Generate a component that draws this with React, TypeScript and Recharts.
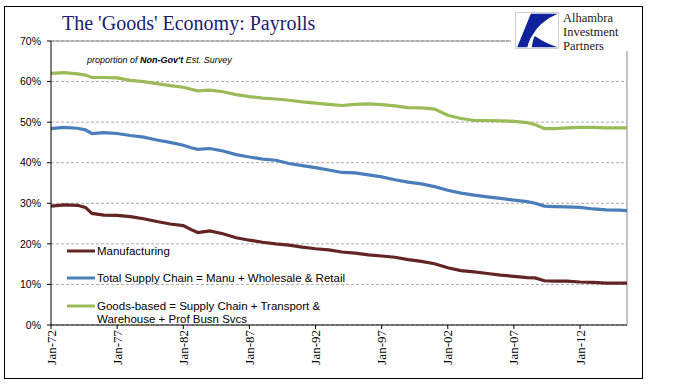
import { LineChart, Line, XAxis, YAxis, CartesianGrid, ReferenceLine, Legend } from "recharts";

// decimal years (Jan-72 .. mid-2015)
const years = [
  1972, 1973, 1974, 1974.6, 1975.1, 1976, 1977, 1978, 1979, 1980, 1981, 1982, 1982.6, 1983.1,
  1984, 1985, 1986, 1987, 1988, 1989, 1990, 1991, 1992, 1993, 1994, 1995, 1996, 1997, 1998,
  1999, 2000, 2001, 2002, 2003, 2004, 2005, 2006, 2007, 2008, 2008.6, 2009.3, 2010, 2011,
  2012, 2013, 2014, 2015, 2015.55,
];

const manufacturing = [
  29.3, 29.6, 29.5, 29.0, 27.5, 27.1, 27.0, 26.7, 26.2, 25.5, 24.9, 24.5, 23.5, 22.8,
  23.2, 22.5, 21.5, 20.9, 20.4, 20.0, 19.7, 19.2, 18.8, 18.5, 18.0, 17.7, 17.3, 17.0, 16.7,
  16.1, 15.7, 15.1, 14.1, 13.4, 13.1, 12.7, 12.3, 12.0, 11.7, 11.6, 10.9, 10.8, 10.8,
  10.6, 10.5, 10.3, 10.3, 10.3,
];

const supplyChain = [
  48.4, 48.7, 48.5, 48.1, 47.2, 47.4, 47.2, 46.7, 46.3, 45.6, 45.0, 44.3, 43.7, 43.3,
  43.5, 42.9, 42.0, 41.4, 40.9, 40.6, 39.8, 39.3, 38.8, 38.2, 37.6, 37.5, 37.0, 36.5, 35.8,
  35.2, 34.8, 34.1, 33.2, 32.5, 32.0, 31.6, 31.2, 30.8, 30.4, 30.0, 29.3, 29.2, 29.1,
  29.0, 28.6, 28.4, 28.3, 28.2,
];

const goodsBased = [
  62.0, 62.2, 61.9, 61.6, 61.0, 61.0, 60.9, 60.3, 60.0, 59.5, 59.0, 58.6, 58.1, 57.7,
  57.9, 57.5, 56.8, 56.3, 55.9, 55.7, 55.4, 55.0, 54.7, 54.4, 54.1, 54.4, 54.5, 54.3, 54.0,
  53.6, 53.5, 53.2, 51.7, 50.9, 50.4, 50.4, 50.3, 50.2, 49.9, 49.4, 48.4, 48.4, 48.6,
  48.7, 48.7, 48.6, 48.6, 48.6,
];

const xTicks = [1972, 1977, 1982, 1987, 1992, 1997, 2002, 2007, 2012];
const yTicks = [0, 10, 20, 30, 40, 50, 60, 70];

const series = [
  { key: "manufacturing", color: "#632523", lines: ["Manufacturing"] },
  { key: "supplyChain", color: "#4a7ebb", lines: ["Total Supply Chain = Manu + Wholesale & Retail"] },
  {
    key: "goodsBased",
    color: "#9bbb59",
    lines: ["Goods-based = Supply Chain + Transport &", "Warehouse + Prof Busn Svcs"],
  },
];

const data = years.map((year, i) => ({
  year,
  manufacturing: manufacturing[i],
  supplyChain: supplyChain[i],
  goodsBased: goodsBased[i],
}));

const NARROW = "'Liberation Sans Narrow', 'Liberation Sans', Arial, sans-serif";
const SERIF = "'Liberation Serif', 'Times New Roman', serif";

const XTick = (props: any) => {
  const { x, y, payload } = props;
  return (
    <text
      x={x}
      y={y}
      dy={4.5}
      transform={`rotate(-90 ${x} ${y})`}
      textAnchor="end"
      fontFamily={SERIF}
      fontSize={13}
      fill="#000"
    >
      {`Jan-${String(payload.value).slice(2)}`}
    </text>
  );
};

const LegendBox = () => {
  const rows = [11, 38, 66];
  return (
    <svg width={320} height={95}>
      {series.map((s, i) => (
        <g key={s.key}>
          <line x1={8} x2={36} y1={rows[i]} y2={rows[i]} stroke={s.color} strokeWidth={3} />
          {s.lines.map((t, j) => (
            <text
              key={j}
              x={38}
              y={rows[i] + 4 + j * 12.5}
              fontFamily={NARROW}
              fontSize={11.5}
              fill="#000"
            >
              {t}
            </text>
          ))}
        </g>
      ))}
    </svg>
  );
};

export default function App() {
  return (
    <div style={{ position: "absolute", left: 0, top: 0, width: 674, height: 392, background: "#fff" }}>
      <LineChart
        width={674}
        height={392}
        data={data}
        margin={{ top: 41, right: 47, bottom: 27, left: 0 }}
      >
        <CartesianGrid vertical={false} stroke="#ababab" strokeDasharray="3 2" />
        <XAxis
          dataKey="year"
          type="number"
          domain={[1972, 2015.55]}
          ticks={xTicks}
          height={40}
          tick={<XTick />}
          tickSize={4}
          tickMargin={1}
          stroke="#000"
          interval={0}
        />
        <YAxis
          domain={[0, 70]}
          ticks={yTicks}
          width={51}
          tickFormatter={(v: number) => `${v}%`}
          tick={{ fontFamily: NARROW, fontSize: 10.5, fill: "#000" }}
          tickSize={4}
          tickMargin={6}
          stroke="#000"
        />
        <ReferenceLine y={70} stroke="#8a8a8a" />
        <ReferenceLine x={2015.55} stroke="#8a8a8a" />
        <Legend
          layout="horizontal"
          verticalAlign="middle"
          align="center"
          content={<LegendBox />}
          wrapperStyle={{ left: 59, top: 240, width: 320, height: 95 }}
        />
        {series.map((s) => (
          <Line
            key={s.key}
            type="linear"
            dataKey={s.key}
            name={s.lines.join(" ")}
            stroke={s.color}
            strokeWidth={3.2}
            dot={false}
            isAnimationActive={false}
          />
        ))}
      </LineChart>
      <svg
        width={674}
        height={392}
        style={{ position: "absolute", left: 0, top: 0, pointerEvents: "none" }}
      >
        <rect x={4.5} y={6.5} width={638} height={372} fill="none" stroke="#000" strokeWidth={1} />
        <text x={62} y={30} fontFamily={SERIF} fontSize={20} fill="#1b1b72">
          The 'Goods' Economy: Payrolls
        </text>
        <text x={87} y={63} fontFamily="'Liberation Sans', Arial, sans-serif" fontSize={9} fontStyle="italic" fill="#000">
          proportion of <tspan fontWeight="bold">Non-Gov't</tspan> Est. Survey
        </text>
        <rect x={511} y={8} width={130} height={43} fill="#fff" />
        <g transform="translate(515 12)">
          <rect x={0.5} y={0.5} width={43} height={36} fill="#fff" stroke="#cfcfcf" />
          <path
            d="M15.8 1.8 L42.7 1.8 Q24.2 9.2 15.4 26.6 Q13.2 31.5 12.3 35.2 L2.2 35.2 Z"
            fill="#10229c"
          />
          <path d="M16.7 35.2 Q18.5 25.2 19.8 24 Q30.8 31.5 42.7 35.2 Z" fill="#10229c" />
        </g>
        <g fontFamily={SERIF} fontSize={12.5} fill="#1a1a1a">
          <text x={563} y={21.5}>Alhambra</text>
          <text x={563} y={35.5}>Investment</text>
          <text x={563} y={49.5}>Partners</text>
        </g>
      </svg>
    </div>
  );
}
